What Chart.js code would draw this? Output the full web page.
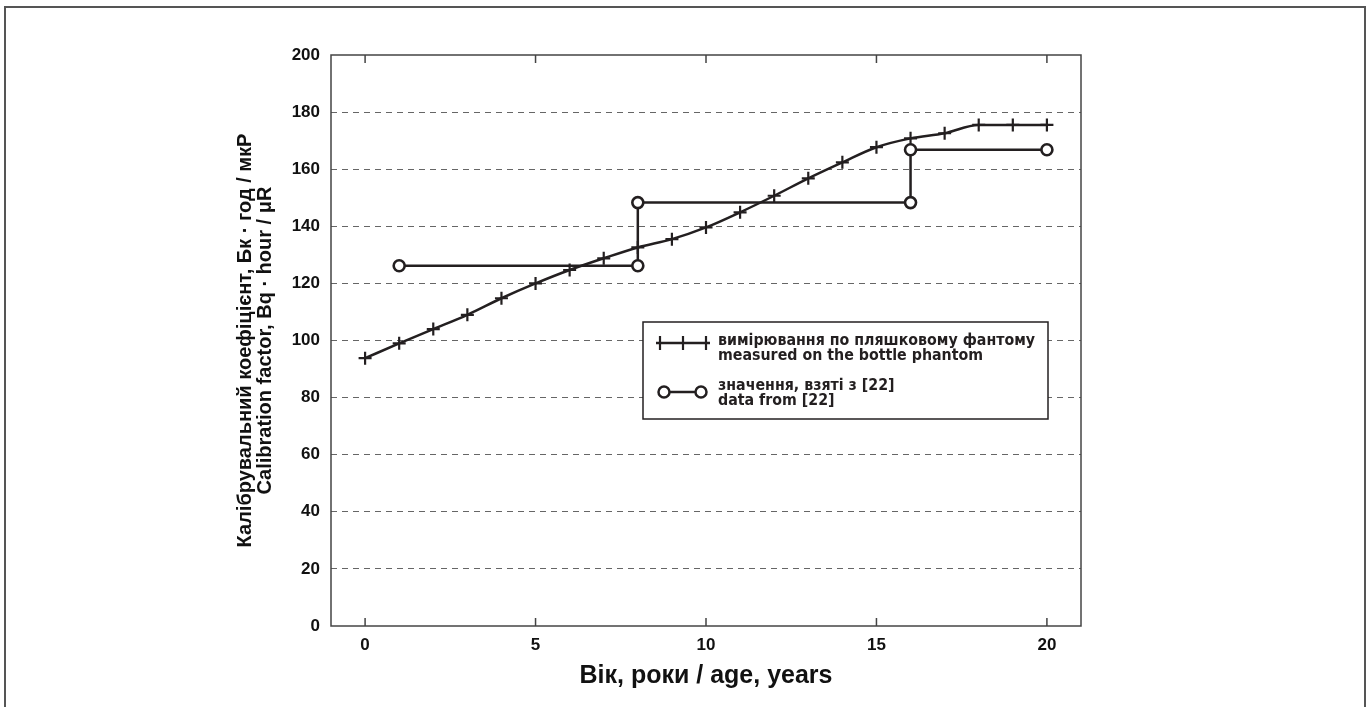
<!DOCTYPE html>
<html lang="uk">
  <head>
    <meta charset="UTF-8" />
    <title>Calibration factor vs age</title>
    <script src="https://cdn.jsdelivr.net/npm/chart.js"></script>
    <style>
      html, body {
        margin: 0;
        padding: 0;
        background: #fff;
        overflow: hidden;
      }
      .frame {
        position: absolute;
        left: 4px;
        top: 6px;
        width: 1358px;
        height: 720px;
        border: 2px solid #555;
      }
      canvas {
        position: absolute;
        left: 0;
        top: 0;
      }
    </style>
  </head>
  <body>
    <div class="frame"></div>
    <canvas id="calChart" width="1367" height="707"></canvas>

    <script>
      // data
      const ages = [0, 1, 2, 3, 4, 5, 6, 7, 8, 9, 10, 11, 12, 13, 14, 15, 16, 17, 18, 19, 20];
      const bottleValues = [93.8, 99, 104, 109, 114.8, 120, 124.7, 128.8, 132.6, 135.5, 139.6,
        144.9, 150.7, 156.8, 162.4, 167.7, 170.8, 172.6, 175.5, 175.5, 175.5];
      const refAges = [1, 8, 8, 16, 16, 20];
      const refValues = [126.2, 126.2, 148.3, 148.3, 166.8, 166.8];
      const xTicks = [0, 5, 10, 15, 20];
      const yTicks = [0, 20, 40, 60, 80, 100, 120, 140, 160, 180, 200];
      const legendLabels = [
        ["вимірювання по пляшковому фантому", "measured on the bottle phantom"],
        ["значення, взяті з [22]", "data from [22]"],
      ];
      const xTitle = "Вік, роки / age, years";
      const yTitle = [
        "Калібрувальний коефіцієнт, Бк · год / мкР",
        "Calibration factor, Bq · hour / μR",
      ];

      const ink = "#231f20";
      const axisFont = "'Liberation Sans', Arial, sans-serif";

      // frame, inner x ticks, legend box and rotated y title
      const decorations = {
        id: "decorations",
        afterDraw(chart) {
          const { ctx, chartArea: a, scales } = chart;
          ctx.save();

          ctx.strokeStyle = "#444";
          ctx.lineWidth = 1.5;
          ctx.strokeRect(a.left, a.top, a.right - a.left, a.bottom - a.top);

          // inward ticks top and bottom
          xTicks.forEach((v) => {
            const px = scales.x.getPixelForValue(v);
            ctx.beginPath();
            ctx.moveTo(px, a.bottom);
            ctx.lineTo(px, a.bottom - 8);
            ctx.moveTo(px, a.top);
            ctx.lineTo(px, a.top + 8);
            ctx.stroke();
          });

          // legend
          const bx = 643, by = 322, bw = 405, bh = 97;
          ctx.fillStyle = "#fff";
          ctx.fillRect(bx, by, bw, bh);
          ctx.strokeStyle = ink;
          ctx.lineWidth = 1.5;
          ctx.strokeRect(bx, by, bw, bh);

          ctx.lineWidth = 2.5;
          ctx.beginPath();
          ctx.moveTo(656, 343);
          ctx.lineTo(710, 343);
          ctx.stroke();
          ctx.lineWidth = 2.2;
          [660, 683, 706].forEach((cx) => {
            ctx.beginPath();
            ctx.moveTo(cx, 336);
            ctx.lineTo(cx, 350);
            ctx.stroke();
          });

          ctx.lineWidth = 2.5;
          ctx.beginPath();
          ctx.moveTo(664, 392);
          ctx.lineTo(701, 392);
          ctx.stroke();
          [664, 701].forEach((cx) => {
            ctx.beginPath();
            ctx.arc(cx, 392, 5.5, 0, Math.PI * 2);
            ctx.fillStyle = "#fff";
            ctx.fill();
            ctx.stroke();
          });

          ctx.fillStyle = ink;
          ctx.font = "bold 15.8px 'DejaVu Sans Condensed', 'DejaVu Sans', sans-serif";
          ctx.textAlign = "left";
          ctx.textBaseline = "middle";
          ctx.fillText(legendLabels[0][0], 718, 341);
          ctx.fillText(legendLabels[0][1], 718, 356);
          ctx.fillText(legendLabels[1][0], 718, 386);
          ctx.fillText(legendLabels[1][1], 718, 401);

          // y title, centred on the plot area
          ctx.translate(255, (a.top + a.bottom) / 2);
          ctx.rotate(-Math.PI / 2);
          ctx.textAlign = "center";
          ctx.font = "bold 20px " + axisFont;
          ctx.fillStyle = "#111";
          ctx.fillText(yTitle[0], 0, -10);
          ctx.fillText(yTitle[1], 0, 10);
          ctx.restore();
        },
      };

      new Chart(document.getElementById("calChart"), {
        type: "scatter",
        data: {
          datasets: [
            {
              label: legendLabels[0].join(" "),
              data: ages.map((a, i) => ({ x: a, y: bottleValues[i] })),
              showLine: true,
              borderColor: ink,
              borderWidth: 2.5,
              cubicInterpolationMode: "monotone",
              pointStyle: "cross",
              pointRadius: 6.5,
              pointBorderWidth: 2.2,
              pointBorderColor: ink,
              pointBackgroundColor: ink,
            },
            {
              label: legendLabels[1].join(" "),
              data: refAges.map((a, i) => ({ x: a, y: refValues[i] })),
              showLine: true,
              borderColor: ink,
              borderWidth: 2.5,
              tension: 0,
              pointStyle: "circle",
              pointRadius: 5.5,
              pointBorderWidth: 2.6,
              pointBorderColor: ink,
              pointBackgroundColor: "#fff",
            },
          ],
        },
        options: {
          responsive: false,
          animation: false,
          devicePixelRatio: 1,
          layout: { padding: { left: 0, top: 55, right: 286, bottom: 0 } },
          plugins: {
            legend: { display: false },
            tooltip: { enabled: false },
          },
          scales: {
            x: {
              type: "linear",
              min: -1,
              max: 21,
              afterBuildTicks: (s) => {
                s.ticks = xTicks.map((v) => ({ value: v }));
              },
              afterFit: (s) => {
                s.height = 81;
              },
              grid: { display: false, drawTicks: false },
              border: { display: false },
              ticks: {
                padding: 9,
                color: "#111",
                font: { family: axisFont, size: 17, weight: "bold" },
              },
              title: {
                display: true,
                text: xTitle,
                color: "#111",
                padding: { top: 0, bottom: 16 },
                font: { family: axisFont, size: 25, weight: "bold" },
              },
            },
            y: {
              min: 0,
              max: 200,
              afterBuildTicks: (s) => {
                s.ticks = yTicks.map((v) => ({ value: v }));
              },
              afterFit: (s) => {
                s.width = 331;
              },
              grid: {
                drawTicks: false,
                lineWidth: 1,
                color: (c) =>
                  c.tick && (c.tick.value === 0 || c.tick.value === 200) ? "rgba(0,0,0,0)" : "#666",
              },
              border: { display: false, dash: [6, 5] },
              ticks: {
                padding: 11,
                color: "#111",
                font: { family: axisFont, size: 17, weight: "bold" },
              },
            },
          },
        },
        plugins: [decorations],
      });
    </script>
  </body>
</html>
